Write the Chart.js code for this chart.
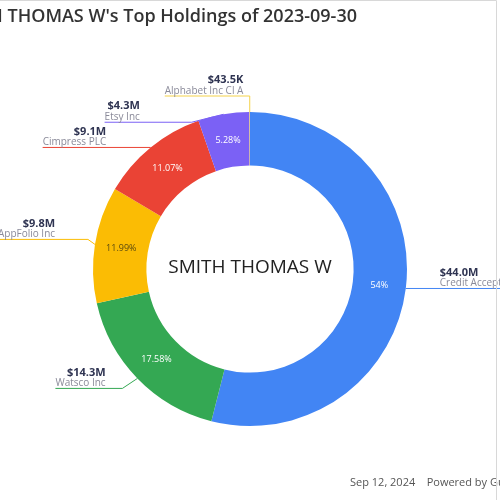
<!DOCTYPE html>
<html>
<head>
<meta charset="utf-8">
<script src="https://cdn.jsdelivr.net/npm/chart.js@4"></script>
<style>
  html, body { margin: 0; padding: 0; background: #fff; }
  #wrap { width: 500px; height: 500px; }
</style>
</head>
<body>
<div id="wrap"><canvas id="holdingsChart" width="500" height="500"></canvas></div>
<script>
// holdings of 2023-09-30, clockwise from the top
const holdingNames = ['Credit Acceptance Corp', 'Watsco Inc', 'AppFolio Inc', 'Cimpress PLC', 'Etsy Inc', 'Alphabet Inc Cl A'];
const holdingValues = [44.0, 14.3, 9.8, 9.1, 4.3, 0.0435]; // $M
const percentLabels = ['54%', '17.58%', '11.99%', '11.07%', '5.28%', ''];
const sliceColors = ['#4285f4', '#34a853', '#fbbc04', '#ea4335', '#7b61f5', '#f4d24a'];

const titleText = "SMITH THOMAS W's Top Holdings of 2023-09-30";
const centerText = 'SMITH THOMAS W';
const footerText = 'Sep 12, 2024    Powered by GuruFocus.com';

function money(v){
    return v >= 1 ? `$${v.toFixed(1)}M` : `$${(v * 1000).toFixed(1)}K`;
}

const labelsPlugin = {
    id: 'holdingLabels',
    afterDatasetsDraw(chart, args, opts) {
        const ctx = chart.ctx;
        const meta = chart.getDatasetMeta(0);
        ctx.save();
        meta.data.forEach((arc, i) => {
            const p = arc.getProps(['x', 'y', 'startAngle', 'endAngle', 'innerRadius', 'outerRadius'], true);
            const mid = (p.startAngle + p.endAngle) / 2;

            // percent inside the ring
            if (percentLabels[i]) {
                const r = (p.innerRadius + p.outerRadius) / 2;
                ctx.font = '9px "Open Sans", sans-serif';
                ctx.textAlign = 'center';
                ctx.textBaseline = 'middle';
                ctx.fillStyle = i === 2 ? '#5a4a10' : '#ffffff';
                ctx.fillText(percentLabels[i], p.x + Math.cos(mid) * r, p.y + Math.sin(mid) * r);
            }

            // leader line
            const ax = p.x + Math.cos(mid) * p.outerRadius;
            const ay = p.y + Math.sin(mid) * p.outerRadius;
            const right = Math.cos(mid) > 0.01;
            const ex = ax + opts.dx[i];
            const ey = ay + opts.dy[i];
            const endX = right ? ex + opts.len[i] : ex - opts.len[i];
            ctx.strokeStyle = sliceColors[i];
            ctx.lineWidth = 1;
            ctx.beginPath();
            ctx.moveTo(ax, ay);
            ctx.lineTo(ex, ey);
            ctx.lineTo(endX, ey);
            ctx.stroke();

            ctx.textBaseline = 'middle';
            ctx.font = '10px "Open Sans", sans-serif';
            const nameW = ctx.measureText(holdingNames[i]).width;
            let nameX, valueX;
            if (right) {
                nameX = ex + 34; valueX = nameX;
            } else {
                nameX = endX; valueX = endX + nameW;
            }
            ctx.fillStyle = '#8a8a99';
            ctx.textAlign = 'left';
            ctx.fillText(holdingNames[i], nameX, ey - 5);
            ctx.font = 'bold 11px "Open Sans", sans-serif';
            ctx.fillStyle = '#2f3452';
            ctx.textAlign = right ? 'left' : 'right';
            ctx.fillText(money(holdingValues[i]), valueX, ey - 16);
        });

        // centre, title, footer, frame
        ctx.fillStyle = '#222';
        ctx.textAlign = 'center';
        ctx.textBaseline = 'middle';
        ctx.font = '500 19px "Open Sans", sans-serif';
        ctx.fillText(centerText, 250, 268);

        ctx.font = '600 18px "Open Sans", sans-serif';
        ctx.fillStyle = '#333';
        ctx.textAlign = 'right';
        ctx.fillText(titleText, 357, 17);

        ctx.font = '11px "Open Sans", sans-serif';
        ctx.fillStyle = '#555';
        ctx.textAlign = 'left';
        ctx.fillText(footerText, 350, 483);

        ctx.strokeStyle = '#d8d8d8';
        ctx.beginPath();
        ctx.moveTo(0, 0.5); ctx.lineTo(496.5, 0.5); ctx.lineTo(496.5, 500);
        ctx.stroke();
        ctx.restore();
    }
};

new Chart(document.getElementById('holdingsChart'), {
    type: 'doughnut',
    data: {
        labels: holdingNames,
        datasets: [{
            data: holdingValues,
            backgroundColor: sliceColors,
            borderWidth: 0
        }]
    },
    options: {
        responsive: false,
        animation: false,
        cutout: '66%',
        layout: { padding: { top: 112, bottom: 74, left: 93, right: 93 } },
        plugins: {
            legend: { display: false },
            tooltip: { enabled: false },
            holdingLabels: {
                dx: [0, -15, -7, 0, -32, 0],
                dy: [0, 10, -5, 0, 8, -16],
                len: [110, 67, 90, 108, 87, 85]
            }
        }
    },
    plugins: [labelsPlugin]
});
</script>
</body>
</html>
